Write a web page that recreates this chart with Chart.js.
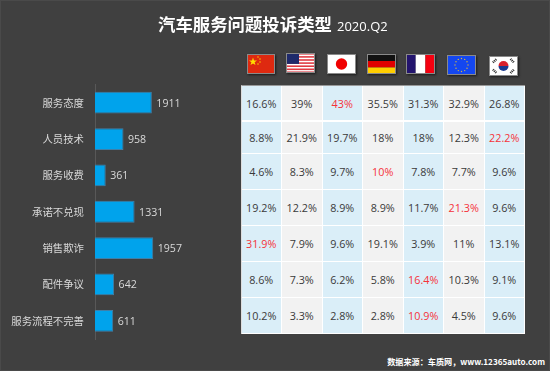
<!DOCTYPE html>
<html>
<head>
<meta charset="utf-8">
<script src="https://cdn.jsdelivr.net/npm/chart.js@4"></script>
<style>
  html, body { margin: 0; padding: 0; background: #404040; }
  #page { position: relative; width: 550px; height: 371px; overflow: hidden; background: #404040; font-family: "Noto Sans CJK SC", "Noto Sans", sans-serif; box-sizing: border-box; border: 1px solid #4a4a4a; }
  #page > * { position: absolute; }
  #bar-box { left: -1px; top: -1px; width: 240px; height: 371px; }
  #title { left: 157px; top: 10px; color: #fff; font-size: 17.4px; font-weight: 700; line-height: 26px; white-space: nowrap; }
  #sub { left: 336px; top: 14px; color: #fff; font-size: 13px; line-height: 22px; font-family: "Open Sans", sans-serif; white-space: nowrap; }
  #source { right: 4px; top: 353px; color: #fff; font-size: 8.15px; font-weight: 700; line-height: 16px; white-space: nowrap; }
  .flag { box-shadow: 1px 1px 2px #1c1c1c; outline: 1px solid #8a8a8a; outline-offset: -1px; }
  #grid { left: 239.5px; top: 83.5px; border-collapse: separate; border-spacing: 0; table-layout: fixed; border-left: 1px solid #ddd; border-top: 1px solid #999; font-family: "Open Sans", sans-serif; font-size: 10.8px; color: #3a3a3a; }
  #grid td { width: 39.5px; padding: 1px 0 0; text-align: center; border-right: 1px solid #fff; border-bottom: 1px solid #fff; box-sizing: content-box; }
  #grid tr:first-child td { border-bottom-width: 2px; }
  #grid td.b { background: #daeef8; }
  #grid td.g { background: #f2f2f2; }
  #grid td.hi { color: #f5333a; }
</style>
</head>
<body>
<div id="page">
  <div id="bar-box"><canvas id="bar-chart" width="240" height="371"></canvas></div>
  <div id="title">汽车服务问题投诉类型</div>
  <div id="sub">2020.Q2</div>
  <div id="source">数据来源：车质网，www.12365auto.com</div>

  <svg class="flag" style="left:246px;top:53px" width="28" height="20" viewBox="0 0 28 20"><rect width="28" height="20" fill="#de2910"/><polygon points="6,3.5 7,6.5 10,6.5 7.6,8.3 8.5,11 6,9.4 3.5,11 4.4,8.3 2,6.5 5,6.5" fill="#ffde00"/><g fill="#ffde00"><circle cx="11" cy="3" r=".7"/><circle cx="13" cy="5" r=".7"/><circle cx="13" cy="8" r=".7"/><circle cx="11" cy="10" r=".7"/></g></svg>

  <svg class="flag" style="left:285px;top:52px" width="29" height="20" viewBox="0 0 29 20"><rect width="29" height="20" fill="#fff"/><g fill="#e03c44"><rect y="0" width="29" height="1.6"/><rect y="3.1" width="29" height="1.6"/><rect y="6.2" width="29" height="1.6"/><rect y="9.3" width="29" height="1.6"/><rect y="12.4" width="29" height="1.6"/><rect y="15.5" width="29" height="1.6"/><rect y="18.4" width="29" height="1.6"/></g><rect width="13" height="10.9" fill="#1f2a6b"/></svg>

  <svg class="flag" style="left:326px;top:53px" width="29" height="20" viewBox="0 0 29 20"><rect width="29" height="20" fill="#fff"/><circle cx="14.5" cy="10" r="5.7" fill="#f00000"/></svg>

  <svg class="flag" style="left:366px;top:52.5px" width="29" height="20" viewBox="0 0 29 20"><rect width="29" height="7" fill="#111"/><rect y="7" width="29" height="6.5" fill="#e00000"/><rect y="13.5" width="29" height="6.5" fill="#ffce00"/></svg>

  <svg class="flag" style="left:405px;top:52.5px" width="29" height="20" viewBox="0 0 29 20"><rect width="9.7" height="20" fill="#23146e"/><rect x="9.7" width="9.7" height="20" fill="#fff"/><rect x="19.4" width="9.6" height="20" fill="#f50010"/></svg>

  <svg class="flag" style="left:446px;top:53.5px" width="29" height="20" viewBox="0 0 29 20"><rect width="29" height="20" fill="#1447f0"/><g fill="#d8b840"><circle cx="14.5" cy="3.5" r=".7"/><circle cx="17.7" cy="4.4" r=".7"/><circle cx="20" cy="6.7" r=".7"/><circle cx="21" cy="10" r=".7"/><circle cx="20" cy="13.3" r=".7"/><circle cx="17.7" cy="15.6" r=".7"/><circle cx="14.5" cy="16.5" r=".7"/><circle cx="11.3" cy="15.6" r=".7"/><circle cx="9" cy="13.3" r=".7"/><circle cx="8" cy="10" r=".7"/><circle cx="9" cy="6.7" r=".7"/><circle cx="11.3" cy="4.4" r=".7"/></g></svg>

  <svg class="flag" style="left:488px;top:55px" width="29" height="20" viewBox="0 0 29 20"><rect width="29" height="20" fill="#fff"/><path d="M9.5 10a5 5 0 0 1 10 0z" fill="#d8202c"/><path d="M9.5 10a5 5 0 0 0 10 0z" fill="#1a3a90"/><g stroke="#222" stroke-width="2.4" stroke-dasharray="1 .8"><line x1="4" y1="6.5" x2="7.5" y2="3"/><line x1="21.5" y1="3" x2="25" y2="6.5"/><line x1="4" y1="13.5" x2="7.5" y2="17"/><line x1="21.5" y1="17" x2="25" y2="13.5"/></g></svg>

  <table id="grid"><tbody id="grid-body"></tbody></table>
</div>

<script>
// complaint types and totals
const categories = ['服务态度', '人员技术', '服务收费', '承诺不兑现', '销售欺诈', '配件争议', '服务流程不完善'];
const totals = [1911, 958, 361, 1331, 1957, 642, 611];

// share per country, columns: CN US JP DE FR EU KR
const shareRows = [
  ['16.6%', '39%', '43%', '35.5%', '31.3%', '32.9%', '26.8%'],
  ['8.8%', '21.9%', '19.7%', '18%', '18%', '12.3%', '22.2%'],
  ['4.6%', '8.3%', '9.7%', '10%', '7.8%', '7.7%', '9.6%'],
  ['19.2%', '12.2%', '8.9%', '8.9%', '11.7%', '21.3%', '9.6%'],
  ['31.9%', '7.9%', '9.6%', '19.1%', '3.9%', '11%', '13.1%'],
  ['8.6%', '7.3%', '6.2%', '5.8%', '16.4%', '10.3%', '9.1%'],
  ['10.2%', '3.3%', '2.8%', '2.8%', '10.9%', '4.5%', '9.6%']
];
// column index of the red cell in each row
const redColumn = [2, 6, 3, 5, 0, 4, 4];
const rowHeights = [35, 31, 35, 35, 35, 35, 35];

// Table
const body = document.getElementById('grid-body');
shareRows.forEach((row, r) => {
  const tr = document.createElement('tr');
  tr.style.height = (rowHeights[r] + 1) + 'px';
  row.forEach((val, c) => {
    const td = document.createElement('td');
    td.textContent = val;
    td.className = (c % 2 === 0 ? 'b' : 'g') + (redColumn[r] === c ? ' hi' : '');
    tr.appendChild(td);
  });
  body.appendChild(tr);
});

// value label at the end of each bar
const barValues = {
  id: 'barValues',
  afterDatasetsDraw(chart) {
    const ctx = chart.ctx;
    ctx.save();
    ctx.fillStyle = '#d9d9d9';
    ctx.font = '10.6px "Open Sans", sans-serif';
    ctx.textBaseline = 'middle';
    chart.getDatasetMeta(0).data.forEach((bar, i) => {
      ctx.fillText(totals[i], bar.x + 4.5, bar.y + 1);
    });
    ctx.restore();
  }
};

// Bar Chart
const ctxBar = document.getElementById('bar-chart').getContext('2d');
new Chart(ctxBar, {
  type: 'bar',
  data: {
    labels: categories,
    datasets: [
      {
        data: totals,
        backgroundColor: '#00a3ec',
        borderColor: '#3f7fa8',
        borderWidth: 1,
        categoryPercentage: 0.6,
        barPercentage: 1
      }
    ]
  },
  options: {
    indexAxis: 'y',
    responsive: false,
    animation: false,
    layout: { padding: { top: 84.5, bottom: 32, right: 26, left: 0 } },
    plugins: { legend: { display: false }, tooltip: { enabled: false } },
    scales: {
      x: { display: false, min: 0, max: 4000 },
      y: {
        afterFit(scale) { scale.width = 95; },
        grid: { display: false, drawTicks: false },
        border: { color: '#585858' },
        ticks: { color: '#d9d9d9', padding: 11, font: { size: 10.4, family: '"Noto Sans CJK SC"' } }
      }
    }
  },
  plugins: [barValues]
});
</script>
</body>
</html>
